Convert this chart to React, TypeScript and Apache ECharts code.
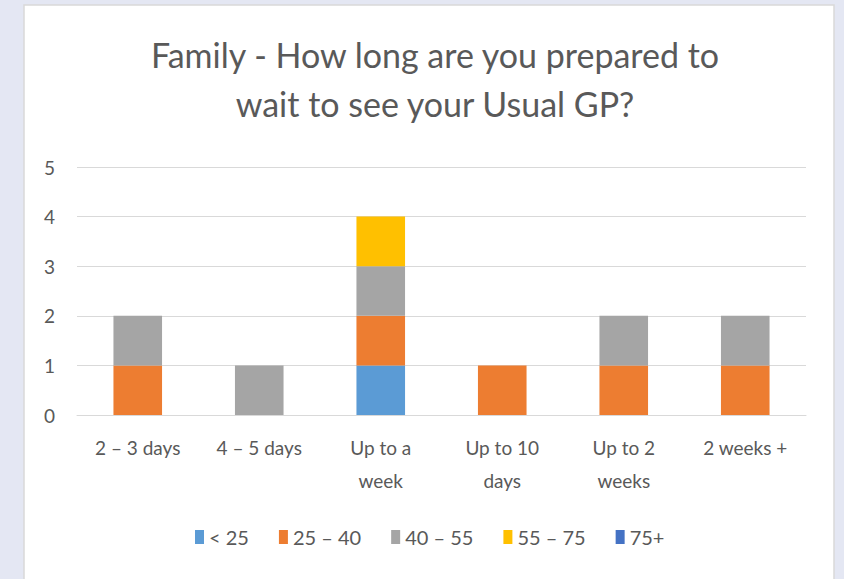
import React, { useEffect, useRef } from "react";
import * as echarts from "echarts";

const categories = ["2 – 3 days", "4 – 5 days", "Up to a\nweek", "Up to 10\ndays", "Up to 2\nweeks", "2 weeks +"];
const seriesNames = ["< 25", "25 – 40", "40 – 55", "55 – 75", "75+"];
const under25 = [0, 0, 1, 0, 0, 0];
const age25to40 = [1, 0, 1, 1, 1, 1];
const age40to55 = [1, 1, 1, 0, 1, 1];
const age55to75 = [0, 0, 1, 0, 0, 0];
const age75plus = [0, 0, 0, 0, 0, 0];
const colors = ["#5B9BD5", "#ED7D31", "#A5A5A5", "#FFC000", "#4472C4"];
const titleText = "Family - How long are you prepared to\nwait to see your Usual GP?";

export default function App() {
  const ref = useRef<HTMLDivElement>(null);
  useEffect(() => {
    document.body.style.margin = "0";
    const chart = echarts.init(ref.current!, null, { renderer: "svg" });
    const values = [under25, age25to40, age40to55, age55to75, age75plus];
    const font = "Lato, 'Noto Sans', sans-serif";
    chart.setOption({
      animation: false,
      backgroundColor: "#E4E7F3",
      color: colors,
      graphic: [
        { type: "rect", shape: { x: 24, y: 5, width: 810, height: 580 }, style: { fill: "#FFFFFF", stroke: "#D9D9D9", lineWidth: 1.5 }, z: -10 },
      ],
      title: {
        text: titleText,
        left: 430,
        top: 25,
        textAlign: "center",
        textStyle: { fontFamily: font, fontSize: 34, fontWeight: "normal", color: "#595959", lineHeight: 49 },
      },
      legend: {
        data: seriesNames,
        bottom: 27,
        left: 190,
        itemWidth: 9,
        itemHeight: 14,
        itemGap: 30,
        icon: "rect",
        textStyle: { fontFamily: font, fontSize: 20, color: "#595959" },
      },
      grid: { left: 77, right: 38, top: 167, bottom: 164 },
      xAxis: {
        type: "category",
        data: categories,
        axisLine: { lineStyle: { color: "#D9D9D9" } },
        axisTick: { show: false },
        axisLabel: { fontFamily: font, fontSize: 19, color: "#595959", lineHeight: 33, margin: 16, interval: 0 },
      },
      yAxis: {
        type: "value",
        min: 0,
        max: 5,
        interval: 1,
        axisLabel: { fontFamily: font, fontSize: 19, color: "#595959", margin: 22 },
        splitLine: { lineStyle: { color: "#D9D9D9" } },
      },
      series: seriesNames.map((name, i) => ({
        name,
        type: "bar",
        stack: "total",
        barWidth: "40%",
        data: values[i],
        itemStyle: { color: colors[i] },
      })),
    });
    return () => chart.dispose();
  }, []);
  return <div ref={ref} style={{ width: 844, height: 579 }} />;
}
